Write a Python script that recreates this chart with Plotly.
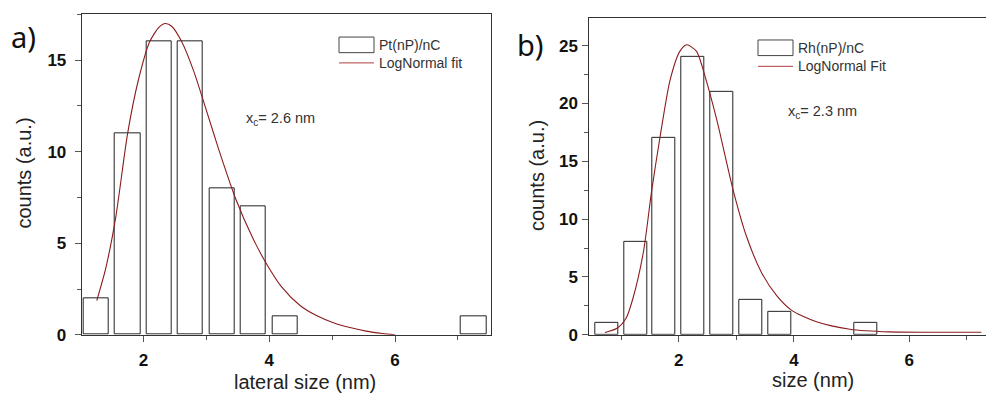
import plotly.graph_objects as go

W, H = 986, 403

# ---- data ----
pt_centers = [1.25, 1.75, 2.25, 2.75, 3.25, 3.75, 4.25, 7.25]
pt_counts = [2, 11, 16, 16, 8, 7, 1, 1]
pt_fit_x = [1.26, 1.40, 1.56, 1.75, 1.92, 2.10, 2.25, 2.35, 2.45, 2.61, 2.80, 2.97,
            3.20, 3.47, 3.75, 3.97, 4.20, 4.49, 4.75, 5.02, 5.30, 5.54, 5.80, 6.00]
pt_fit_y = [1.87, 3.6, 6.4, 11.0, 13.9, 16.0, 16.8, 17.0, 16.85, 16.0, 14.4, 12.6,
            10.1, 7.4, 5.2, 3.8, 2.6, 1.6, 1.05, 0.66, 0.38, 0.2, 0.07, 0.0]

rh_centers = [0.75, 1.25, 1.75, 2.25, 2.75, 3.25, 3.75, 5.25]
rh_counts = [1, 8, 17, 24, 21, 3, 2, 1]
rh_fit_x = [0.72, 0.93, 1.09, 1.21, 1.39, 1.53, 1.68, 1.85, 2.02, 2.14, 2.31, 2.46,
            2.66, 2.95, 3.18, 3.44, 3.70, 3.96, 4.39, 4.97, 5.66, 7.25]
rh_fit_y = [0.19, 0.56, 1.45, 3.2, 7.2, 12.4, 17.2, 22.0, 24.5, 25.07, 24.5, 22.3,
            18.6, 12.4, 8.45, 5.35, 3.38, 2.11, 1.12, 0.48, 0.25, 0.22]

bar_width = 0.4
BAR_LINE = "#222222"
FIT = "#8b1c1c"
TXT = "#333333"


def px(x, y):
    return x / W, (H - y) / H


fig = go.Figure()
fig.add_trace(go.Bar(x=pt_centers, y=pt_counts, width=bar_width, xaxis="x", yaxis="y",
                     marker=dict(color="white", line=dict(color=BAR_LINE, width=1)),
                     showlegend=False))
fig.add_trace(go.Scatter(x=pt_fit_x, y=pt_fit_y, mode="lines", xaxis="x", yaxis="y",
                         line=dict(color=FIT, width=1.1, shape="spline", smoothing=0.7),
                         showlegend=False))
fig.add_trace(go.Bar(x=rh_centers, y=rh_counts, width=bar_width, xaxis="x2", yaxis="y2",
                     marker=dict(color="white", line=dict(color=BAR_LINE, width=1)),
                     showlegend=False))
fig.add_trace(go.Scatter(x=rh_fit_x, y=rh_fit_y, mode="lines", xaxis="x2", yaxis="y2",
                         line=dict(color=FIT, width=1.1, shape="spline", smoothing=0.7),
                         showlegend=False))

tickfont = dict(family="Liberation Sans", size=17, color="#111111", weight="bold")
common_x = dict(showline=True, linecolor="#333333", linewidth=1, ticks="outside",
                ticklen=6, tickcolor="#555555", showgrid=False, zeroline=False,
                tickfont=tickfont, dtick=2, tick0=0, ticklabelstandoff=4,
                minor=dict(dtick=1, tick0=1, ticks="outside", ticklen=4, tickcolor="#555555"))
common_y = dict(showline=True, linecolor="#333333", linewidth=1, ticks="outside",
                ticklen=6, tickcolor="#555555", showgrid=False, zeroline=False,
                tickfont=tickfont, dtick=5, tick0=0,
                minor=dict(dtick=2.5, tick0=0, ticks="outside", ticklen=4, tickcolor="#555555"))

y_bot = (H - 343.3) / H

fig.update_layout(
    width=W, height=H, margin=dict(l=0, r=0, t=0, b=0),
    paper_bgcolor="white", plot_bgcolor="white", bargap=0,
    xaxis=dict(**common_x, domain=[81.7 / W, 490.7 / W], range=[1.02, 7.52],
               mirror=True, anchor="y"),
    yaxis=dict(**common_y, domain=[y_bot, (H - 14.7) / H], range=[0, 17.5],
               mirror=True, anchor="x", ticklabelstandoff=5),
    xaxis2=dict(**common_x, domain=[589.3 / W, 1.0], range=[0.45, 7.33],
                mirror=True, anchor="y2"),
    yaxis2=dict(**common_y, domain=[y_bot, (H - 18.3) / H], range=[0, 27.4],
                anchor="x2", ticklabelstandoff=1),
)

ann = []
shapes = []


def text(x, y, s, size, xanchor="left", family="Liberation Sans", color=TXT, angle=0):
    xx, yy = px(x, y)
    ann.append(dict(x=xx, y=yy, xref="paper", yref="paper", text=s, showarrow=False,
                    xanchor=xanchor, yanchor="middle", textangle=angle,
                    font=dict(family=family, size=size, color=color)))


# panel labels
text(9, 37, "a)", 29, family="Noto Sans", color="#111111")
text(515, 46, "b)", 29, family="Noto Sans", color="#111111")

# axis titles
text(305, 392, "lateral size (nm)", 20, xanchor="center", color="#222222")
text(813, 390, "size (nm)", 20, xanchor="center", color="#222222")
text(24, 178, "counts (a.u.)", 20, xanchor="center", color="#222222", angle=-90)
text(536.5, 180, "counts (a.u.)", 20, xanchor="center", color="#222222", angle=-90)


# legends
def legend(x0, ybox, yline, label1, label2):
    a0, b0 = px(x0, ybox - 8)
    a1, b1 = px(x0 + 35, ybox + 8)
    shapes.append(dict(type="rect", xref="paper", yref="paper", x0=a0, y0=b1, x1=a1, y1=b0,
                       line=dict(color="#444444", width=1), fillcolor="white"))
    c0, d0 = px(x0, yline)
    c1, _ = px(x0 + 35, yline)
    shapes.append(dict(type="line", xref="paper", yref="paper", x0=c0, y0=d0, x1=c1, y1=d0,
                       line=dict(color="#b04040", width=1)))
    text(x0 + 38, ybox, label1, 14)
    text(x0 + 38, yline, label2, 14)


legend(339, 46, 64.5, "Pt(nP)/nC", "LogNormal fit")
legend(758, 49, 68, "Rh(nP)/nC", "LogNormal Fit")

text(244, 122, "x<sub>c</sub>= 2.6 nm", 14.5)
text(786, 115, "x<sub>c</sub>= 2.3 nm", 14.5)

fig.update_layout(annotations=ann, shapes=shapes)
fig.write_html("out.html")
